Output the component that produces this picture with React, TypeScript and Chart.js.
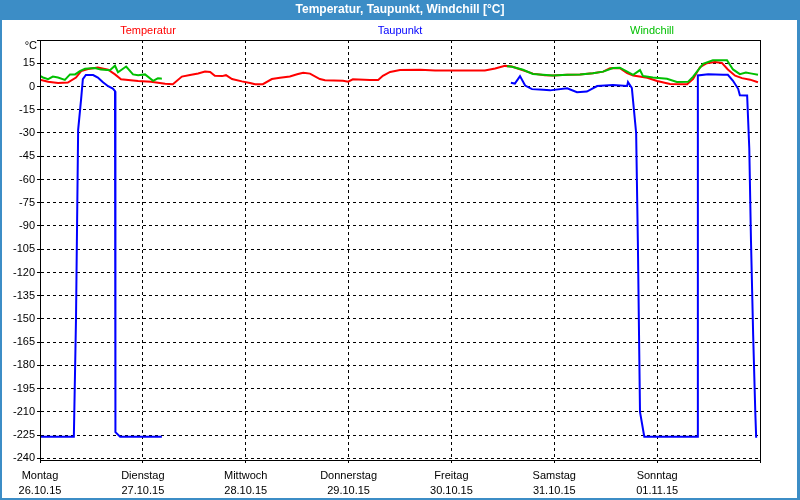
import React, { useEffect, useRef } from "react";
import { Chart, registerables } from "chart.js";

Chart.register(...registerables);

// ---- data (hours since Monday 26.10.15 00:00) ----
const dayNames = ["Montag", "Dienstag", "Mittwoch", "Donnerstag", "Freitag", "Samstag", "Sonntag"];
const dayDates = ["26.10.15", "27.10.15", "28.10.15", "29.10.15", "30.10.15", "31.10.15", "01.11.15"];
const yTickValues = [30, 15, 0, -15, -30, -45, -60, -75, -90, -105, -120, -135, -150, -165, -180, -195, -210, -225, -240];

const tempHours = [0, 1.9, 4.2, 6.5, 8.4, 9.6, 11.2, 13.5, 15.9, 17.5, 18.9, 22.9, 25.9, 29.2, 31, 33.1, 35, 36.9, 38.5, 39.7, 40.8, 42.5, 43.4, 44.8, 47.1, 49, 50.2, 52, 54.1, 56, 58.3, 60, 61.4, 63, 65.3, 66.5, 70.7, 71.9, 73, 77, 78.9, 80, 81.7, 84, 88.7, 92.2, 103.8, 106.2, 108.5, 110.1, 112.7, 115, 117.8, 119.7, 123, 126, 129, 131.4, 133, 135.3, 137, 138.4, 141.7, 144, 147, 151, 152.4, 154, 155.6, 157.5, 159.1, 160.5, 162.2, 163.8, 165.7, 167.3];
const tempValues = [4.3, 3.1, 2.3, 2.5, 5.8, 9.9, 11.3, 12.3, 10.8, 7.8, 4.7, 3.5, 3.1, 1.8, 1.5, 6.4, 7.4, 8.4, 9.6, 9.4, 6.9, 6.7, 7.3, 4.8, 3.3, 2.3, 1.5, 1.5, 4.8, 5.6, 6.5, 7.9, 8.9, 8.3, 4.8, 4.0, 3.7, 3.1, 4.6, 4.2, 4.2, 6.9, 9.4, 10.6, 10.8, 10.4, 10.4, 11.6, 13.3, 12.9, 10.5, 8.3, 7.3, 7.1, 7.5, 7.7, 8.5, 9.6, 11.7, 11.9, 8.7, 7.1, 5.6, 3.5, 1.6, 1.5, 4.9, 12.5, 15.0, 15.8, 15.2, 11.0, 7.0, 5.4, 4.4, 2.9];

const dewHours = [0, 7.9, 8.4, 8.9, 9.6, 10, 10.7, 12.4, 13.5, 14.7, 15.9, 17, 17.5, 17.6, 18.7, 28.2, 60, 110.1, 110.8, 112, 113.2, 114.8, 117.4, 119, 123, 125.3, 127.6, 130, 133.7, 137, 137.2, 138.1, 139.1, 139.5, 140, 141, 153.3, 153.5, 155.9, 159.4, 160.5, 161.7, 162.9, 163.3, 165, 165.5, 165.9, 166.4, 166.9, 167.1];
const dewValues = [-226, -226, -150, -28, -8, 4.7, 7.4, 7.4, 5.8, 2.7, 0.2, -1.4, -3, -223, -226, -226, null, 2.3, 1.9, 6.7, 0.6, -1.7, -2.1, -2.5, -1.2, -3.7, -3.3, 0.3, 1.0, 0.4, 2.9, -1.0, -30, -100, -210, -226, -226, 7.1, 7.9, 7.5, 7.5, 3.7, -1.5, -5.6, -5.8, -40, -100, -160, -210, -226];

const chillHours = [0, 0.7, 1.9, 3, 4.2, 5.8, 7, 8.2, 9.3, 10.5, 12.8, 14.2, 16.3, 17.5, 18.2, 20.1, 21.7, 22.9, 24.5, 26.4, 27.5, 28.2, 60, 109.2, 110.1, 112.7, 115, 119.7, 123, 126, 129, 131.4, 133.7, 135.3, 137, 138.4, 140, 140.7, 143, 146.3, 148.6, 151.2, 152.4, 154.7, 157, 160.3, 161.7, 163.3, 164.7, 166.1, 167.3];
const chillValues = [6.8, 5.8, 4.7, 6.4, 5.8, 4.3, 7.8, 7.8, 9.9, 11.5, 11.9, 10.9, 10.5, 13.4, 9.2, 12.9, 7.8, 7.2, 7.8, 3.7, 5.3, 5.1, null, 13.0, 12.7, 10.8, 8.1, 7.1, 7.5, 7.7, 8.5, 9.6, 11.9, 12.1, 9.6, 7.5, 10.6, 6.7, 5.8, 5.0, 2.9, 3.0, 6.4, 14.6, 16.9, 16.9, 11.0, 8.0, 9.0, 8.3, 7.7];

const seriesNames = ["Temperatur", "Taupunkt", "Windchill"];
const seriesColors = ["#ff0000", "#0000ff", "#00c000"];

const FONT = "'Liberation Sans', Arial, sans-serif";
const FRAME_BLUE = "#3c8dc6";

const toPoints = (hs: number[], vs: (number | null)[]) => hs.map((h, i) => ({ x: h, y: vs[i] }));

const framePlugin = {
  id: "framePlugin",
  beforeDraw(chart: any) {
    const { ctx, width, height } = chart;
    ctx.save();
    ctx.fillStyle = "#ffffff";
    ctx.fillRect(0, 0, width, height);
    ctx.fillStyle = FRAME_BLUE;
    ctx.fillRect(0, 0, width, 20);
    ctx.fillRect(0, 0, 2, height);
    ctx.fillRect(width - 3, 0, 3, height);
    ctx.fillRect(0, height - 2, width, 2);
    ctx.fillStyle = "#ffffff";
    ctx.font = `bold 12px ${FONT}`;
    ctx.textAlign = "center";
    ctx.textBaseline = "middle";
    ctx.fillText("Temperatur, Taupunkt, Windchill [°C]", width / 2, 10);
    ctx.restore();
  },
  afterDraw(chart: any) {
    const { ctx, chartArea } = chart;
    const { left, right, top, bottom } = chartArea;
    ctx.save();
    ctx.strokeStyle = "#000000";
    ctx.lineWidth = 1;
    ctx.strokeRect(left + 0.5, top + 0.5, right - left, bottom - top);
    ctx.font = `11px ${FONT}`;
    ctx.textBaseline = "middle";
    ctx.textAlign = "center";
    const w = right - left;
    const xs = [left + w * 0.15, left + w * 0.5, left + w * 0.85];
    seriesNames.forEach((n, i) => {
      ctx.fillStyle = seriesColors[i];
      ctx.fillText(n, xs[i], 31);
    });
    ctx.fillStyle = "#000000";
    ctx.textAlign = "right";
    ctx.fillText("°C", left - 3, 46);
    ctx.restore();
  },
};

export default function App() {
  const ref = useRef<HTMLCanvasElement | null>(null);
  useEffect(() => {
    if (!ref.current) return;
    const chart = new Chart(ref.current, {
      type: "line",
      data: {
        datasets: [
          {
            label: seriesNames[2],
            data: toPoints(chillHours, chillValues),
            borderColor: seriesColors[2],
            backgroundColor: seriesColors[2],
          },
          {
            label: seriesNames[1],
            data: toPoints(dewHours, dewValues),
            borderColor: seriesColors[1],
            backgroundColor: seriesColors[1],
          },
          {
            label: seriesNames[0],
            data: toPoints(tempHours, tempValues),
            borderColor: seriesColors[0],
            backgroundColor: seriesColors[0],
          },
        ] as any,
      },
      options: {
        animation: false,
        responsive: false,
        devicePixelRatio: 1,
        spanGaps: false,
        elements: {
          line: { borderWidth: 2, tension: 0, borderCapStyle: "square", borderJoinStyle: "miter" },
          point: { radius: 0, hitRadius: 0, hoverRadius: 0 },
        },
        layout: { padding: { top: 40, right: 40, bottom: 0, left: 0 } },
        plugins: { legend: { display: false }, title: { display: false }, tooltip: { enabled: false } },
        scales: {
          x: {
            type: "linear",
            min: 0,
            max: 168,
            afterFit: (s: any) => { s.height = 40; },
            afterBuildTicks: (s: any) => {
              s.ticks = [0, 24, 48, 72, 96, 120, 144, 168].map((v) => ({ value: v }));
            },
            ticks: {
              autoSkip: false,
              maxRotation: 0,
              padding: 6,
              color: "#000000",
              font: { family: FONT, size: 11, lineHeight: 1.35 },
              callback: (v: any) => {
                const i = Math.round(Number(v) / 24);
                return i < dayNames.length ? [dayNames[i], dayDates[i]] : "";
              },
            },
            grid: { color: "#000000", lineWidth: 1, tickLength: 3, drawTicks: true },
            border: { display: true, color: "#000000", width: 1, dash: [3, 3] },
          },
          y: {
            type: "linear",
            min: -241,
            max: 30,
            afterFit: (s: any) => { s.width = 40; },
            afterBuildTicks: (s: any) => {
              s.ticks = yTickValues.slice().reverse().map((v) => ({ value: v }));
            },
            ticks: {
              padding: 2,
              color: "#000000",
              font: { family: FONT, size: 11 },
              callback: (v: any) => (Number(v) === 30 ? "" : String(v)),
            },
            grid: { color: "#000000", lineWidth: 1, tickLength: 3 },
            border: { display: true, color: "#000000", width: 1, dash: [3, 3] },
          },
        },
      } as any,
      plugins: [framePlugin],
    });
    return () => chart.destroy();
  }, []);
  return (
    <div style={{ position: "fixed", left: 0, top: 0, width: 800, height: 500 }}>
      <canvas ref={ref} width={800} height={500} style={{ display: "block", width: 800, height: 500 }} />
    </div>
  );
}
